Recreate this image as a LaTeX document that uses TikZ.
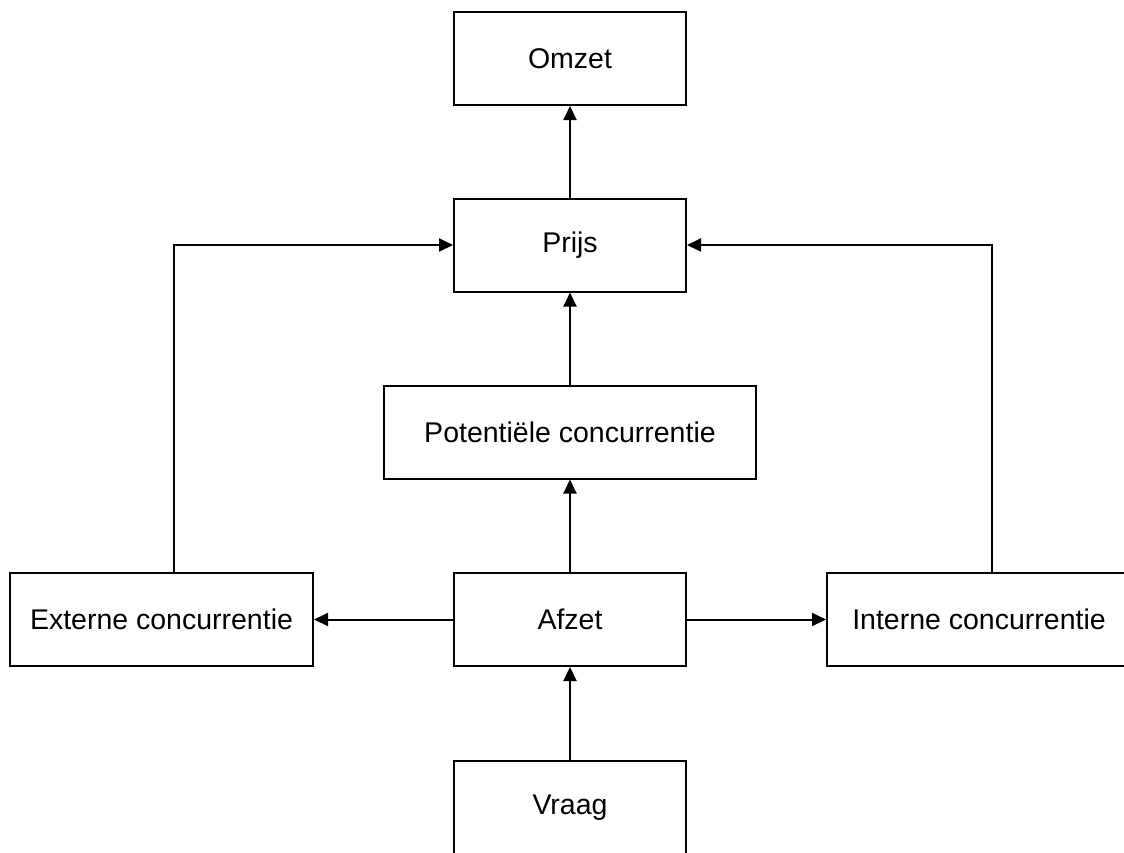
\documentclass[tikz,border=0pt]{standalone}
\usepackage{fontspec}
\setmainfont{Liberation Sans}
\usetikzlibrary{arrows.meta,calc}
\begin{document}
\begin{tikzpicture}[x=1pt,y=-1pt,
  box/.style={draw,line width=2pt,inner sep=0pt,minimum height=93pt,
    font=\fontsize{28.5}{32}\selectfont},
  conn/.style={line width=2pt,-{Triangle[length=14pt,width=13pt]}}]
  \useasboundingbox (0,0) rectangle (1124,852);
  \clip (0,0) rectangle (1124,852);
  % boxes
  \node[box,minimum width=232pt] (omzet) at (570,58.5) {Omzet};
  \node[box,minimum width=232pt] (prijs) at (570,245) {Prijs};
  \node[box,minimum width=372pt] (pot) at (570,432) {Potentiële concurrentie};
  \node[box,minimum width=303pt] (ext) at (161.5,619.5) {Externe concurrentie};
  \node[box,minimum width=232pt] (afzet) at (570,619.5) {Afzet};
  \node[box,minimum width=304pt] (int) at (979,619.5) {Interne concurrentie};
  \node[box,minimum width=232pt] (vraag) at (570,807.5) {Vraag};
  % vertical chain
  \draw[conn] (prijs) -- (omzet);
  \draw[conn] (pot) -- (prijs);
  \draw[conn] (afzet) -- (pot);
  \draw[conn] (vraag) -- (afzet);
  % sideways from Afzet
  \draw[conn] (afzet) -- (ext);
  \draw[conn] (afzet) -- (int);
  % feedback loops to Prijs
  \coordinate (extTop) at ($(ext.north)+(12.5,0)$);
  \coordinate (intTop) at ($(int.north)+(13,0)$);
  \draw[conn] (extTop) |- (prijs.west);
  \draw[conn] (intTop) |- (prijs.east);
\end{tikzpicture}
\end{document}
